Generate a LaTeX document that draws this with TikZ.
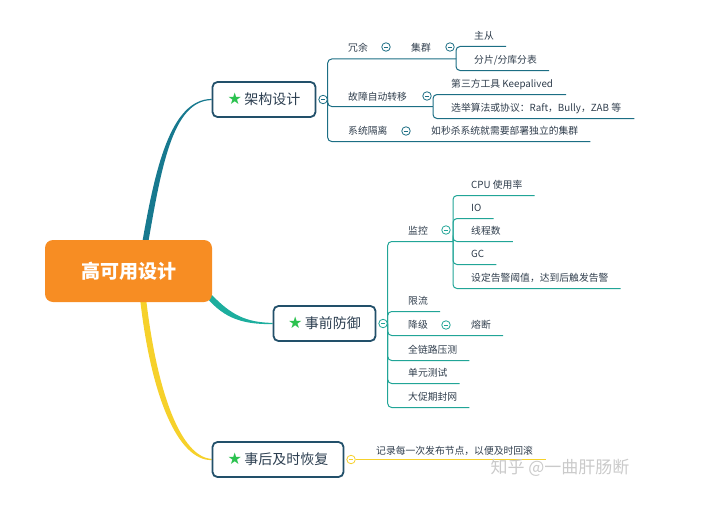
\documentclass[tikz,border=0pt]{standalone}
\usepackage{fontspec}
\setmainfont{Noto Sans CJK SC}
\newfontfamily\starfont{DejaVu Sans}
\usetikzlibrary{positioning,backgrounds}

\definecolor{hubfill}{HTML}{F78D23}
\definecolor{boxline}{HTML}{22506A}
\definecolor{boxtxt}{HTML}{2C3E50}
\definecolor{leaftxt}{HTML}{2F3D4C}
\definecolor{b1main}{HTML}{17798F}
\definecolor{b1sub}{HTML}{1C6E84}
\definecolor{b2main}{HTML}{1DAE9E}
\definecolor{b2sub}{HTML}{21A597}
\definecolor{b3line}{HTML}{F6D12B}
\definecolor{star}{HTML}{2BC24F}
\definecolor{markgray}{HTML}{CACACA}

\newcommand{\mystar}{{\starfont\fontsize{16}{16}\selectfont\color{star}★}}

\tikzset{
  hub/.style={fill=hubfill, rounded corners=8pt, minimum width=167pt,
    minimum height=62pt, text=white, font=\fontsize{19}{22}\selectfont\bfseries},
  topic/.style={draw=boxline, line width=1.8pt, rounded corners=5pt, fill=white,
    minimum height=35pt, font=\fontsize{14}{16}\selectfont, text=boxtxt},
  leaf/.style={anchor=west, inner sep=0pt, font=\fontsize{9.8}{11}\selectfont, text=leaftxt},
  fold/.style={circle, draw=#1, fill=white, minimum size=8.5pt, inner sep=0pt,
    line width=0.8pt, path picture={\draw[#1, line width=0.7pt]
      ([xshift=2.2pt]path picture bounding box.west) --
      ([xshift=-2.2pt]path picture bounding box.east);}},
  twig/.style={draw=#1, line width=1pt, rounded corners=4pt},
}

\begin{document}
\begin{tikzpicture}[x=1pt, y=-1pt]
\useasboundingbox (0,0) rectangle (706,511);

% 中心主题
\node[hub] (hub) at (128.5,271) {高可用设计};

% 三个分支
\node[topic, minimum width=103pt] (arch) at (264,99.5) {\mystar\,架构设计};
\node[topic, minimum width=102pt] (defend) at (324.5,323.5) {\mystar\,事前防御};
\node[topic, minimum width=131pt] (recover) at (278,459.5) {\mystar\,事后及时恢复};

\node[fold=b1sub, right=2pt of arch] (archfold) {};
\node[fold=b2sub, right=2pt of defend] (defendfold) {};
\node[fold=b3line, right=2pt of recover] (recoverfold) {};

% 粗连线
\begin{scope}[on background layer]
  \fill[b1main] ([shift={(13.5,4)}]hub.north) .. controls (155,170) and (170,99.5) ..
    ([yshift=0.6pt]arch.west) -- ([yshift=-0.6pt]arch.west) .. controls (172,100.5) and (161,170) ..
    ([shift={(19.5,4)}]hub.north) -- cycle;
  \fill[b2main] ([shift={(-1,-8)}]hub.south east) .. controls (231,315) and (246,322.4) ..
    ([yshift=0.6pt]defend.west) -- ([yshift=-0.6pt]defend.west) .. controls (244,324.5) and (225,319) ..
    ([shift={(-5,-4)}]hub.south east) -- cycle;
  \fill[b3line] ([shift={(11.5,-4)}]hub.south) .. controls (151,397) and (178,460.5) ..
    ([yshift=-0.6pt]recover.west) -- ([yshift=0.6pt]recover.west) .. controls (181,457) and (157,393) ..
    ([shift={(17.5,-4)}]hub.south) -- cycle;
\end{scope}

% 架构设计
\node[leaf] (rongyu) at (348,48) {冗余};
\node[fold=b1sub] (rongyufold) at (386,47) {};
\node[leaf] (jiqun) at (411,48) {集群};
\node[fold=b1sub] (jiqunfold) at (450,47) {};
\node[leaf] (zhucong) at (474,36) {主从};
\node[leaf] (fenpian) at (474,60) {分片/分库分表};
\node[leaf] (guzhang) at (348,97) {故障自动转移};
\node[fold=b1sub] (guzhangfold) at (427,96) {};
\node[leaf] (keepalived) at (451,84) {第三方工具 Keepalived};
\node[leaf] (xuanju) at (451,108) {选举算法或协议：Raft，Bully，ZAB 等};
\node[leaf] (geli) at (348,131) {系统隔离};
\node[fold=b1sub] (gelifold) at (406,131) {};
\node[leaf] (miaosha) at (431,131) {如秒杀系统就需要部署独立的集群};

\coordinate (j1) at (456,59);
\coordinate (j2) at (433,106.5);

\draw[twig=b1sub] (archfold.east) |- (j1);
\draw[twig=b1sub] (archfold.east) |- (j2);
\draw[twig=b1sub] (archfold.east) |- ([shift={(12,10.5)}]miaosha.east);
\foreach \n in {zhucong,fenpian}
  \draw[twig=b1sub] (j1) |- ([shift={(12,10.5)}]\n.east);
\foreach \n in {keepalived,xuanju}
  \draw[twig=b1sub] (j2) |- ([shift={(13,10.5)}]\n.east);

% 事前防御
\node[leaf] (jiankong) at (408,231) {监控};
\node[fold=b2sub] (jiankongfold) at (446,230) {};
\node[leaf] (cpu) at (471,185) {CPU 使用率};
\node[leaf] (io) at (471,208) {IO};
\node[leaf] (xiancheng) at (471,231) {线程数};
\node[leaf] (gc) at (471,254) {GC};
\node[leaf] (gaojing) at (471,278) {设定告警阈值，达到后触发告警};
\node[leaf] (xianliu) at (408,301) {限流};
\node[leaf] (jiangji) at (408,325) {降级};
\node[fold=b2sub] (jiangjifold) at (446,325) {};
\node[leaf] (rongduan) at (471,325) {熔断};
\node[leaf] (yace) at (408,350) {全链路压测};
\node[leaf] (danyuan) at (408,373) {单元测试};
\node[leaf] (fengwang) at (408,397) {大促期封网};

\coordinate (j3) at (453,241.5);

\draw[twig=b2sub] (defendfold.east) |- (j3);
\foreach \n in {cpu,io,xiancheng,gc,gaojing}
  \draw[twig=b2sub] (j3) |- ([shift={(12,10.5)}]\n.east);
\foreach \n in {xianliu,rongduan,yace,danyuan,fengwang}
  \draw[twig=b2sub] (defendfold.east) |- ([shift={(12,10.5)}]\n.east);

% 事后及时恢复
\node[leaf] (huigun) at (376,450.5) {记录每一次发布节点，以便及时回滚};
\draw[twig=b3line] (recoverfold.east) -- ([xshift=13pt]huigun.east |- recoverfold.east);

% 水印
\node[font=\fontsize{17}{20}\selectfont, text=markgray] (mark) at (560,468) {知乎 @一曲肝肠断};
\end{tikzpicture}
\end{document}
